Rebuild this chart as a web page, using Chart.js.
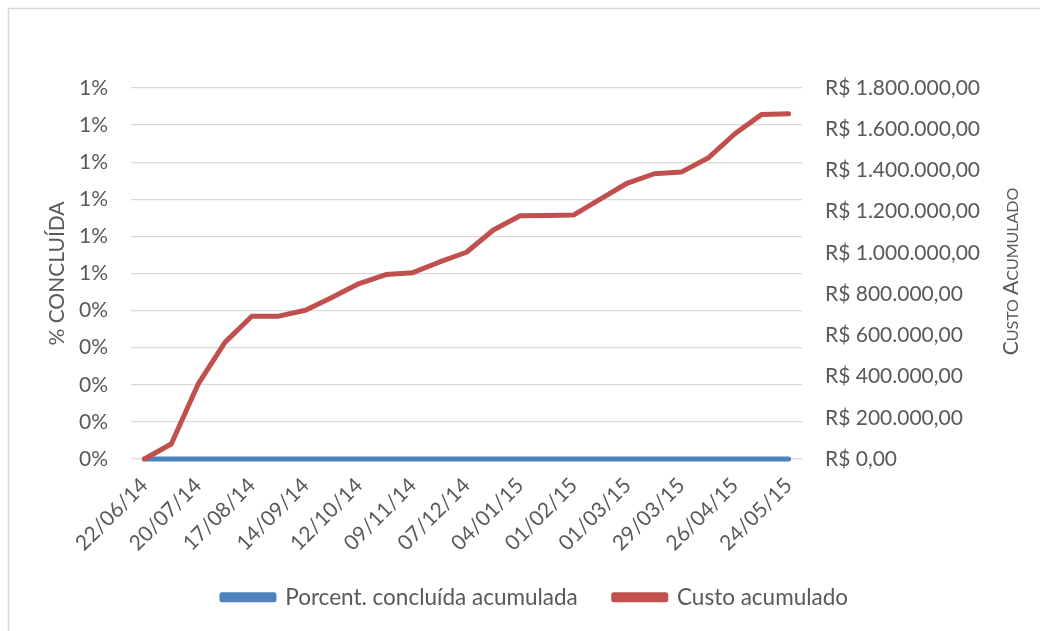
<!DOCTYPE html>
<html>
<head>
<meta charset="utf-8">
<script src="https://cdn.jsdelivr.net/npm/chart.js@4.4.1/dist/chart.umd.min.js"></script>
<style>
  html, body { margin: 0; padding: 0; background: #fff; }
  canvas { display: block; }
</style>
</head>
<body>
<canvas id="curvaChart" width="1040" height="631"></canvas>
<script>
// datas quinzenais
const datas = [
    '22/06/14', '06/07/14', '20/07/14', '03/08/14', '17/08/14', '31/08/14', '14/09/14',
    '28/09/14', '12/10/14', '26/10/14', '09/11/14', '23/11/14', '07/12/14', '21/12/14',
    '04/01/15', '18/01/15', '01/02/15', '15/02/15', '01/03/15', '15/03/15', '29/03/15',
    '12/04/15', '26/04/15', '10/05/15', '24/05/15'
];
const porcentConcluida = [
    0, 0, 0, 0, 0, 0, 0, 0, 0, 0, 0, 0, 0, 0, 0, 0, 0, 0, 0, 0, 0, 0, 0, 0, 0
];
const custoAcumulado = [
    0, 73000, 363000, 566000, 693000, 693000, 722000, 785000, 851000, 895000,
    904000, 956000, 1003000, 1111000, 1180000, 1182000, 1184000, 1262000, 1339000,
    1384000, 1392000, 1460000, 1578000, 1672000, 1675000
];
const nomesSeries = ['Porcent. concluída acumulada', 'Custo acumulado'];

const FONTE = 'Lato';
const CINZA = '#595959';
const TAM = 21;

function formatReal(v) {
    const inteiro = Math.round(v).toString().replace(/\B(?=(\d{3})+(?!\d))/g, '.');
    return 'R$ ' + inteiro + ',00';
}

// moldura e titulo do eixo direito (versalete, lido de baixo pra cima)
const extras = {
    id: 'extras',
    beforeDraw(chart) {
        const ctx = chart.ctx;
        ctx.save();
        ctx.fillStyle = '#fff';
        ctx.fillRect(0, 0, chart.width, chart.height);
        ctx.strokeStyle = '#d9d9d9';
        ctx.lineWidth = 1.5;
        ctx.strokeRect(8.5, 8.5, chart.width + 20, chart.height + 20);
        ctx.restore();
    },
    afterDraw(chart) {
        const ctx = chart.ctx;
        const area = chart.chartArea;
        const partes = [['C', 21], ['USTO ', 16], ['A', 21], ['CUMULADO', 16]];
        ctx.save();
        ctx.fillStyle = CINZA;
        ctx.textBaseline = 'alphabetic';
        let total = 0;
        partes.forEach(p => {
            ctx.font = p[1] + 'px ' + FONTE;
            total += ctx.measureText(p[0]).width;
        });
        ctx.translate(1018, (area.top + area.bottom) / 2 - 2);
        ctx.rotate(-Math.PI / 2);
        let x = -total / 2;
        partes.forEach(p => {
            ctx.font = p[1] + 'px ' + FONTE;
            ctx.fillText(p[0], x, 0);
            x += ctx.measureText(p[0]).width;
        });
        ctx.restore();
    }
};

const ctx = document.getElementById('curvaChart').getContext('2d');
new Chart(ctx, {
    type: 'line',
    data: {
        labels: datas,
        datasets: [{
            label: nomesSeries[0],
            data: porcentConcluida,
            yAxisID: 'y',
            borderColor: '#4f81bd',
            backgroundColor: '#4f81bd',
            borderWidth: 5,
            borderCapStyle: 'round',
            borderJoinStyle: 'round',
            pointRadius: 0,
            tension: 0,
            clip: false,
            order: 2
        }, {
            label: nomesSeries[1],
            data: custoAcumulado,
            yAxisID: 'y1',
            borderColor: '#c0504d',
            backgroundColor: '#c0504d',
            borderWidth: 5,
            borderCapStyle: 'round',
            borderJoinStyle: 'round',
            pointRadius: 0,
            tension: 0,
            clip: false,
            order: 1
        }]
    },
    options: {
        responsive: false,
        animation: false,
        layout: {
            padding: { top: 88, left: 30, right: 0, bottom: 12.5 }
        },
        plugins: {
            tooltip: { enabled: false },
            legend: {
                position: 'bottom',
                reverse: true,
                labels: {
                    boxWidth: 52,
                    boxHeight: 5,
                    padding: 36,
                    color: CINZA,
                    font: { family: FONTE, size: 22.5 }
                }
            }
        },
        scales: {
            x: {
                offset: true,
                grid: { display: false, drawTicks: false },
                border: { display: false },
                ticks: {
                    autoSkip: false,
                    maxRotation: 45,
                    minRotation: 45,
                    padding: 14,
                    color: CINZA,
                    font: { family: FONTE, size: TAM },
                    callback: function (value, index) {
                        return index % 2 === 0 ? datas[index] : '';
                    }
                },
                afterFit: function (scale) {
                    scale.height = 91;
                    // rótulos inclinados passam da caixa do eixo: sem recorte
                    scale._computeLabelArea = function () { return undefined; };
                }
            },
            y: {
                position: 'left',
                min: 0,
                max: 0.01,
                grid: { color: '#d9d9d9', lineWidth: 1.3, drawTicks: false },
                border: { display: false },
                ticks: {
                    stepSize: 0.001,
                    padding: 23,
                    color: CINZA,
                    font: { family: FONTE, size: TAM },
                    callback: function (v) {
                        return Math.round(Math.round(v * 1000) / 10) + '%';
                    }
                },
                title: {
                    display: true,
                    text: '% CONCLUÍDA',
                    color: CINZA,
                    font: { family: FONTE, size: TAM },
                    padding: { top: 15, bottom: 0 }
                },
                afterFit: function (scale) { scale.width = 101; }
            },
            y1: {
                position: 'right',
                min: 0,
                max: 1800000,
                grid: { display: false, drawTicks: false },
                border: { display: false },
                ticks: {
                    stepSize: 200000,
                    padding: 23,
                    color: CINZA,
                    font: { family: FONTE, size: TAM },
                    callback: function (v) { return formatReal(v); }
                },
                afterFit: function (scale) { scale.width = 238; }
            }
        }
    },
    plugins: [extras]
});
</script>
</body>
</html>
